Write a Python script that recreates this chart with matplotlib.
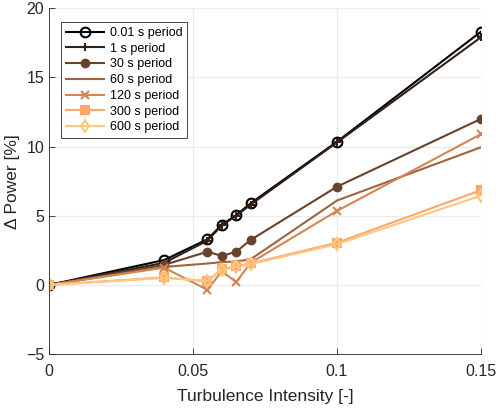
import matplotlib.pyplot as plt
from matplotlib import cm

# turbulence intensity values
ti = [0, 0.04, 0.055, 0.06, 0.065, 0.07, 0.1, 0.15]

labels = ['0.01 s period', '1 s period', '30 s period', '60 s period',
          '120 s period', '300 s period', '600 s period']

p001 = [0, 1.8, 3.3, 4.35, 5.05, 5.9, 10.35, 18.3]
p1 = [0, 1.6, 3.2, 4.3, 5.0, 5.8, 10.3, 17.9]
p30 = [0, 1.45, 2.4, 2.1, 2.4, 3.25, 7.1, 12.0]
p60 = [0, 1.3, 1.55, 1.65, 1.7, 1.85, 6.1, 9.95]
p120 = [0, 1.25, -0.35, 1.0, 0.2, 1.6, 5.35, 10.9]
p300 = [0, 0.55, 0.25, 1.15, 1.35, 1.55, 3.05, 6.85]
p600 = [0, 0.5, 0.3, 1.1, 1.3, 1.5, 2.95, 6.45]

series = [p001, p1, p30, p60, p120, p300, p600]
markers = ['o', '+', 'o', '', 'x', 's', 'd']
msizes = [7, 6, 5.5, 6, 5.5, 5.5, 6]
filled = [False, True, True, True, True, True, False]

plt.rcParams['font.family'] = ['Liberation Sans', 'DejaVu Sans']

fig = plt.figure(figsize=(5, 4.08), dpi=100)
ax = fig.add_axes([0.098, 0.132, 0.864, 0.848])

for i in range(len(series)):
    c = cm.copper(i / 6.0)
    mfc = c if filled[i] else 'none'
    ax.plot(ti, series[i], color=c, linewidth=1.5, marker=markers[i] if markers[i] else None,
            markersize=msizes[i], markerfacecolor=mfc, markeredgecolor=c, markeredgewidth=1.5,
            label=labels[i])

ax.set_xlim(0, 0.15)
ax.set_ylim(-5, 20)
ax.set_xticks([0, 0.05, 0.1, 0.15])
ax.set_xticklabels(['0', '0.05', '0.1', '0.15'])
ax.set_yticks([-5, 0, 5, 10, 15, 20])
ax.grid(True, color='#ebebeb', linewidth=0.8)
ax.set_axisbelow(True)
for s in ['top', 'right']:
    ax.spines[s].set_visible(False)
for s in ['left', 'bottom']:
    ax.spines[s].set_color('#262626')
    ax.spines[s].set_linewidth(0.6)
ax.tick_params(direction='in', length=4, width=0.6, colors='#262626', labelsize=11.5)
ax.tick_params(axis='x', pad=7)
ax.set_xlabel('Turbulence Intensity [-]', fontsize=12.5, color='#262626', labelpad=7)
ax.set_ylabel('Δ Power [%]', fontsize=12.5, color='#262626')

leg = ax.legend(loc='upper left', bbox_to_anchor=(0.028, 0.96), fontsize=9,
                handlelength=3.0, labelspacing=0.3, borderpad=0.4, handletextpad=0.5,
                fancybox=False, framealpha=1, borderaxespad=0)
leg.get_frame().set_edgecolor('#262626')
leg.get_frame().set_linewidth(0.6)

fig.savefig('out.png', dpi=100)
